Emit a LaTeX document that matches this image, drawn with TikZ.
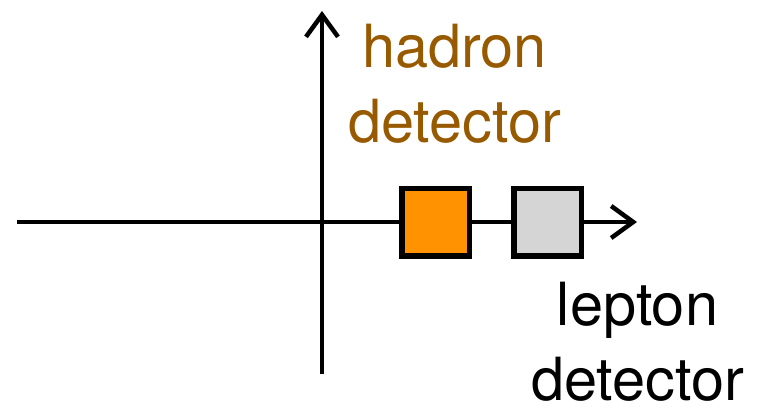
\documentclass[tikz,border=0pt]{standalone}
\usepackage{fontspec}
\setmainfont{TeX Gyre Heros}
\usetikzlibrary{arrows.meta}
\definecolor{hadroncol}{HTML}{985A00}
\definecolor{orangefill}{HTML}{FF9200}
\definecolor{grayfill}{HTML}{D5D5D5}
\tikzset{
  axis/.style={line width=4.5pt, -{Straight Barb[length=22pt,width=32pt,line width=4.5pt]}},
  detbox/.style={draw=black, line width=5.5pt, minimum size=67.5pt, inner sep=0pt},
  lbl/.style={align=center, inner sep=0pt, font=\fontsize{59.5}{75}\selectfont}
}
\begin{document}
\begin{tikzpicture}[x=1pt,y=-1pt]
\useasboundingbox (0,0) rectangle (759,410);
\coordinate (xl) at (17,222);
\coordinate (xr) at (637,222);
\coordinate (yb) at (322,374);
\coordinate (yt) at (322,11);
\draw[axis] (xl) -- (xr);
\draw[axis] (yb) -- (yt);
\node[detbox, fill=orangefill] (had) at (435.5,222) {};
\node[detbox, fill=grayfill] (lep) at (547.5,222) {};
\node[lbl, text=hadroncol, anchor=base] (hadlbl) at (454.5,142) {hadron\\detector};
\node[lbl, text=black, anchor=base] (leplbl) at (637.5,400) {lepton\\detector};
\end{tikzpicture}
\end{document}
